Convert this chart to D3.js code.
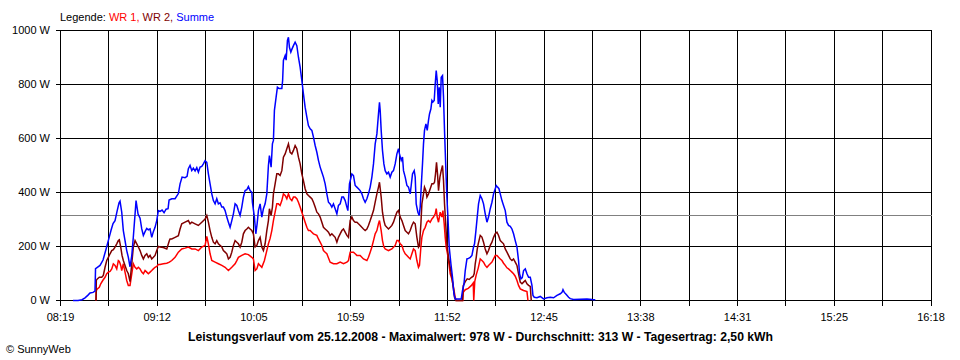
<!DOCTYPE html>
<html><head><meta charset="utf-8">
<script src="https://cdn.jsdelivr.net/npm/d3@7"></script>
<style>
html,body{margin:0;padding:0;background:#fff;}
svg{display:block;}
text{font-family:"Liberation Sans",Arial,sans-serif;font-size:11px;fill:#000;}
</style></head>
<body>
<svg id="chart" width="960" height="360"></svg>
<script>
// ---------------- data ----------------
const xTickLabels = ["08:19","09:12","10:05","10:59","11:52","12:45","13:38","14:31","15:25","16:18"];
const timeStart = "08:19:00";
const timeEnd = "16:18:00";
const yTicks = [0,200,400,600,800,1000];
const average = 313;
const legendItems = [["WR 1,","#ff0000"],["WR 2,","#800000"],["Summe","#0000ff"]];
const title = "Leistungsverlauf vom 25.12.2008 - Maximalwert: 978 W - Durchschnitt: 313 W - Tagesertrag: 2,50 kWh";

const summe = [["08:26:09",0],["08:28:55",0],["08:31:07",3],["08:32:46",10],["08:34:25",20],["08:35:31",28],["08:37:10",30],["08:38:16",35],["08:38:33",118],["08:39:22",122],["08:41:01",130],["08:42:41",150],["08:44:20",190],["08:45:59",232],["08:47:05",260],["08:48:11",285],["08:49:17",296],["08:50:23",330],["08:51:29",362],["08:52:02",368],["08:52:58",327],["08:53:51",259],["08:54:47",222],["08:55:43",185],["08:56:36",160],["08:57:32",125],["08:58:29",165],["08:59:21",235],["09:00:18",320],["09:00:51",370],["09:01:57",320],["09:03:03",305],["09:03:59",265],["09:04:52",241],["09:05:48",255],["09:06:44",267],["09:07:37",262],["09:08:33",265],["09:09:29",234],["09:10:22",255],["09:11:18",271],["09:12:14",296],["09:13:07",333],["09:14:03",330],["09:15:10",335],["09:16:16",325],["09:17:22",338],["09:18:28",340],["09:19:01",372],["09:20:30",377],["09:22:19",377],["09:24:08",396],["09:25:04",432],["09:26:10",457],["09:27:49",455],["09:28:55",460],["09:29:38",488],["09:30:34",500],["09:31:31",481],["09:32:23",490],["09:33:20",480],["09:34:16",492],["09:35:09",475],["09:36:05",494],["09:37:01",497],["09:37:54",506],["09:38:50",518],["09:39:46",512],["09:40:39",469],["09:41:35",432],["09:42:31",395],["09:43:24",370],["09:44:20",358],["09:45:16",377],["09:46:09",358],["09:47:05",362],["09:48:02",346],["09:48:54",346],["09:49:51",333],["09:50:47",309],["09:51:40",290],["09:52:36",271],["09:53:32",296],["09:54:25",321],["09:55:21",358],["09:56:17",352],["09:57:10",333],["09:58:06",315],["09:59:02",346],["09:59:55",383],["10:00:51",407],["10:01:47",410],["10:02:40",422],["10:03:36",407],["10:04:33",401],["10:04:52",364],["10:05:58",309],["10:06:45",247],["10:07:28",284],["10:08:11",333],["10:09:07",358],["10:10:03",309],["10:10:56",340],["10:11:52",358],["10:12:48",395],["10:13:41",500],["10:14:14",537],["10:15:10",494],["10:15:53",580],["10:16:26",593],["10:16:59",704],["10:17:55",753],["10:18:38",790],["10:19:34",785],["10:21:04",785],["10:21:30",815],["10:21:56",889],["10:22:53",907],["10:23:26",890],["10:24:09",963],["10:24:42",975],["10:25:15",938],["10:26:01",920],["10:26:34",930],["10:27:27",944],["10:28:23",957],["10:29:19",944],["10:30:12",901],["10:31:08",864],["10:32:04",815],["10:32:57",765],["10:33:53",716],["10:34:50",679],["10:35:42",648],["10:36:39",636],["10:37:35",630],["10:38:28",605],["10:39:24",574],["10:40:20",549],["10:41:13",519],["10:42:09",494],["10:43:05",475],["10:43:58",457],["10:44:54",432],["10:45:50",395],["10:46:43",364],["10:47:39",358],["10:48:35",346],["10:49:28",358],["10:50:24",340],["10:51:21",321],["10:52:13",352],["10:53:10",358],["10:54:06",383],["10:54:59",383],["10:55:55",370],["10:56:51",346],["10:57:24",333],["10:58:17",432],["10:59:36",469],["11:00:29",463],["11:01:25",426],["11:02:21",420],["11:03:14",414],["11:04:10",407],["11:05:06",395],["11:05:59",377],["11:06:55",364],["11:07:52",377],["11:08:44",395],["11:09:41",420],["11:10:37",457],["11:11:30",506],["11:12:26",580],["11:13:22",617],["11:14:15",691],["11:14:48",734],["11:15:11",704],["11:15:44",630],["11:16:27",556],["11:17:13",506],["11:17:56",481],["11:18:52",469],["11:19:45",475],["11:20:41",457],["11:21:37",475],["11:22:30",481],["11:23:26",506],["11:24:23",543],["11:25:15",562],["11:25:48",543],["11:26:45",519],["11:27:28",531],["11:28:01",481],["11:28:57",457],["11:29:53",426],["11:30:46",420],["11:31:42",395],["11:32:15",426],["11:32:58",469],["11:33:54",481],["11:34:27",457],["11:35:00",358],["11:35:56",327],["11:36:39",315],["11:37:12",346],["11:37:45",420],["11:38:28",506],["11:39:01",580],["11:39:34",630],["11:40:21",654],["11:41:04",630],["11:41:46",667],["11:42:19",691],["11:43:06",710],["11:43:39",741],["11:44:12",735],["11:44:55",741],["11:45:28",802],["11:46:01",852],["11:46:34",815],["11:47:07",728],["11:47:40",790],["11:48:13",716],["11:48:46",827],["11:49:29",833],["11:50:02",753],["11:50:35",630],["11:51:21",481],["11:51:54",383],["11:52:27",309],["11:53:10",198],["11:54:06",136],["11:54:59",86],["11:55:45",25],["11:56:28",6],["11:58:17",6],["11:59:47",6],["12:00:30",37],["12:01:16",60],["12:01:59",111],["12:02:55",154],["12:03:48",156],["12:04:44",160],["12:05:40",167],["12:06:33",198],["12:07:06",210],["12:07:52",259],["12:08:35",309],["12:09:18",358],["12:10:14",389],["12:11:10",377],["12:12:03",358],["12:12:59",321],["12:13:56",290],["12:14:48",309],["12:15:45",340],["12:16:41",364],["12:17:34",395],["12:18:30",414],["12:19:03",426],["12:19:46",420],["12:20:32",414],["12:21:15",395],["12:22:11",370],["12:23:04",352],["12:24:00",333],["12:24:56",290],["12:25:49",278],["12:26:45",275],["12:27:41",265],["12:28:34",247],["12:29:30",222],["12:30:27",198],["12:31:19",148],["12:31:53",99],["12:32:39",80],["12:33:22",85],["12:34:05",111],["12:35:01",117],["12:35:57",99],["12:36:50",86],["12:37:46",86],["12:38:42",56],["12:39:15",19],["12:39:58",12],["12:41:27",10],["12:43:16",15],["12:45:05",6],["12:46:58",10],["12:48:47",12],["12:50:36",10],["12:52:28",19],["12:54:17",25],["12:55:13",30],["12:55:46",40],["12:56:29",30],["12:57:35",22],["12:58:51",12],["12:59:47",7],["13:01:36",4],["13:05:18",5],["13:08:59",6],["13:11:44",4],["13:13:33",3]];

const wr1 = [["08:38:49",0],["08:38:59",37],["08:39:32",43],["08:40:38",49],["08:41:25",62],["08:42:31",74],["08:43:47",86],["08:44:43",99],["08:45:36",105],["08:46:32",108],["08:47:28",117],["08:48:21",136],["08:49:17",130],["08:50:13",117],["08:51:06",148],["08:51:39",145],["08:52:25",130],["08:52:58",111],["08:53:51",136],["08:54:47",105],["08:55:43",74],["08:56:36",56],["08:57:32",56],["08:58:29",99],["08:59:21",136],["09:00:18",123],["09:01:14",117],["09:02:07",123],["09:03:03",117],["09:03:59",105],["09:04:52",99],["09:05:48",111],["09:06:44",105],["09:07:37",99],["09:08:33",105],["09:09:29",111],["09:10:22",117],["09:11:18",123],["09:12:14",126],["09:13:07",133],["09:14:03",133],["09:15:52",136],["09:17:45",138],["09:19:11",142],["09:20:30",148],["09:22:19",160],["09:24:08",179],["09:26:00",191],["09:27:49",194],["09:29:38",198],["09:31:31",191],["09:33:20",191],["09:35:09",185],["09:37:01",198],["09:38:50",204],["09:39:46",237],["09:40:39",210],["09:41:35",173],["09:42:31",148],["09:44:20",142],["09:46:09",136],["09:48:02",130],["09:49:51",123],["09:51:40",111],["09:53:32",123],["09:55:21",136],["09:56:17",148],["09:57:10",160],["09:59:02",167],["10:00:51",173],["10:02:40",170],["10:04:33",160],["10:05:25",154],["10:06:22",111],["10:07:18",117],["10:08:11",136],["10:10:03",123],["10:11:29",148],["10:12:48",185],["10:13:41",210],["10:14:37",230],["10:15:33",259],["10:16:26",296],["10:17:22",327],["10:18:18",358],["10:19:11",358],["10:20:07",352],["10:21:04",370],["10:21:56",395],["10:22:53",389],["10:23:49",377],["10:24:42",395],["10:25:38",377],["10:26:34",370],["10:27:27",383],["10:28:23",383],["10:29:19",377],["10:30:12",364],["10:31:08",346],["10:32:04",327],["10:32:57",309],["10:33:53",290],["10:34:50",271],["10:35:42",259],["10:36:39",259],["10:37:35",253],["10:38:28",247],["10:40:20",241],["10:41:13",228],["10:42:09",216],["10:43:05",204],["10:43:58",185],["10:44:54",179],["10:45:50",173],["10:47:39",142],["10:49:28",136],["10:51:21",136],["10:53:10",142],["10:54:59",136],["10:56:51",142],["10:57:44",148],["10:58:40",179],["10:59:36",179],["11:00:29",179],["11:01:25",173],["11:02:21",167],["11:04:10",167],["11:05:59",154],["11:07:52",148],["11:08:44",160],["11:09:41",179],["11:10:37",198],["11:11:30",222],["11:12:26",247],["11:13:22",259],["11:14:15",284],["11:14:48",296],["11:15:44",259],["11:16:27",222],["11:17:13",198],["11:17:56",191],["11:19:45",185],["11:21:37",191],["11:23:26",204],["11:24:23",222],["11:25:15",222],["11:26:12",210],["11:27:08",204],["11:28:01",185],["11:28:57",173],["11:29:53",167],["11:30:46",160],["11:31:42",154],["11:32:38",173],["11:33:31",191],["11:34:27",185],["11:35:23",148],["11:36:16",123],["11:36:49",130],["11:37:35",198],["11:38:08",234],["11:39:01",259],["11:39:57",271],["11:40:54",290],["11:41:46",296],["11:42:43",290],["11:43:39",302],["11:44:32",309],["11:45:28",321],["11:46:01",340],["11:46:34",309],["11:47:17",290],["11:48:13",327],["11:49:09",309],["11:49:42",333],["11:50:25",284],["11:50:58",234],["11:51:31",198],["11:52:14",173],["11:52:47",148],["11:53:43",99],["11:54:39",80],["11:55:32",49],["11:56:28",12],["11:57:01",0],["12:00:36",0],["12:00:53",30],["12:01:59",40],["12:03:38",45],["12:05:17",55],["12:06:23",65],["12:06:40",0],["12:07:13",70],["12:08:02",95],["12:09:08",120],["12:10:14",154],["12:11:10",148],["12:12:03",142],["12:12:59",130],["12:13:56",123],["12:14:48",130],["12:15:45",136],["12:16:41",142],["12:17:34",154],["12:18:30",167],["12:19:26",167],["12:20:19",160],["12:21:15",154],["12:22:11",148],["12:23:04",138],["12:24:00",130],["12:24:56",121],["12:25:49",117],["12:26:45",111],["12:27:41",105],["12:28:34",99],["12:29:30",90],["12:30:27",74],["12:31:19",56],["12:32:16",43],["12:33:12",40],["12:34:05",37],["12:35:01",35],["12:35:57",33],["12:36:30",0]];

const wr2 = [["08:38:49",0],["08:38:59",75],["08:39:32",80],["08:40:38",86],["08:41:58",86],["08:42:50",93],["08:43:47",123],["08:44:43",148],["08:45:36",160],["08:46:32",173],["08:47:28",185],["08:48:21",188],["08:49:17",198],["08:50:13",210],["08:51:06",222],["08:51:39",225],["08:52:25",198],["08:53:08",167],["08:53:51",148],["08:54:47",130],["08:55:43",111],["08:56:36",99],["08:57:32",70],["08:58:29",136],["08:59:21",198],["09:00:18",222],["09:01:14",210],["09:02:07",198],["09:03:03",185],["09:03:59",167],["09:04:52",154],["09:05:48",167],["09:06:44",173],["09:07:37",160],["09:08:33",167],["09:09:29",154],["09:10:22",160],["09:11:18",167],["09:12:14",185],["09:13:07",200],["09:14:03",198],["09:15:52",196],["09:17:45",191],["09:19:11",222],["09:19:34",228],["09:20:30",228],["09:22:19",234],["09:24:08",240],["09:25:04",265],["09:26:00",284],["09:27:49",290],["09:29:38",296],["09:30:34",284],["09:31:31",290],["09:33:20",284],["09:35:09",278],["09:37:01",290],["09:38:50",302],["09:39:46",315],["09:40:39",290],["09:41:35",259],["09:42:31",234],["09:43:24",216],["09:44:20",210],["09:45:16",222],["09:46:09",210],["09:48:02",198],["09:48:54",185],["09:49:51",179],["09:50:47",173],["09:51:40",154],["09:52:36",160],["09:53:32",179],["09:54:25",204],["09:55:21",222],["09:56:17",216],["09:57:10",210],["09:58:06",198],["09:59:02",216],["09:59:55",247],["10:00:51",259],["10:01:47",265],["10:02:40",271],["10:03:36",265],["10:04:33",259],["10:05:25",247],["10:06:22",198],["10:07:18",204],["10:08:11",222],["10:09:07",234],["10:10:03",198],["10:10:56",185],["10:11:52",210],["10:12:48",259],["10:13:41",296],["10:14:14",340],["10:15:10",315],["10:15:53",346],["10:16:26",395],["10:17:22",432],["10:18:18",469],["10:19:11",469],["10:20:07",463],["10:21:04",481],["10:21:56",531],["10:22:53",543],["10:23:49",562],["10:24:42",580],["10:25:38",549],["10:26:34",543],["10:27:27",556],["10:28:23",574],["10:29:19",562],["10:30:12",531],["10:31:08",506],["10:32:04",469],["10:32:57",444],["10:33:53",414],["10:34:50",395],["10:35:42",389],["10:36:39",383],["10:37:35",377],["10:38:28",364],["10:39:24",346],["10:40:20",327],["10:41:13",321],["10:42:09",309],["10:43:05",290],["10:43:58",271],["10:44:54",265],["10:45:50",259],["10:46:43",253],["10:47:39",241],["10:48:35",247],["10:49:28",241],["10:50:24",234],["10:51:21",216],["10:52:13",234],["10:53:10",247],["10:54:06",259],["10:54:59",265],["10:55:55",253],["10:56:51",241],["10:57:44",234],["10:58:40",296],["10:59:36",309],["11:00:29",296],["11:01:25",290],["11:02:21",290],["11:03:14",284],["11:04:10",278],["11:05:06",271],["11:05:59",265],["11:06:55",259],["11:07:52",265],["11:08:44",278],["11:09:41",296],["11:10:37",315],["11:11:30",333],["11:12:26",364],["11:13:22",395],["11:14:15",420],["11:14:48",438],["11:15:44",383],["11:16:27",327],["11:17:13",296],["11:17:56",278],["11:18:52",271],["11:19:45",265],["11:20:41",271],["11:21:37",278],["11:22:30",290],["11:23:26",309],["11:24:23",327],["11:25:15",333],["11:26:12",309],["11:27:08",296],["11:28:01",278],["11:28:57",259],["11:29:53",253],["11:30:46",247],["11:31:42",259],["11:32:38",278],["11:33:31",290],["11:34:27",284],["11:35:23",234],["11:36:16",198],["11:36:49",204],["11:37:35",284],["11:38:08",358],["11:39:01",395],["11:39:34",420],["11:40:21",407],["11:40:54",383],["11:41:46",395],["11:42:43",414],["11:43:39",432],["11:44:32",432],["11:45:05",438],["11:45:38",469],["11:46:11",512],["11:46:44",469],["11:47:17",407],["11:48:03",457],["11:48:46",481],["11:49:29",500],["11:50:02",444],["11:50:35",358],["11:51:21",271],["11:51:54",210],["11:52:47",160],["11:53:43",123],["11:54:39",86],["11:55:22",49],["11:56:05",12],["11:56:52",0],["12:00:30",0],["12:00:53",55],["12:01:59",70],["12:03:05",80],["12:04:11",78],["12:05:17",85],["12:06:23",90],["12:06:56",100],["12:07:29",136],["12:08:02",160],["12:08:35",190],["12:09:08",210],["12:10:14",241],["12:11:10",235],["12:12:03",216],["12:12:59",191],["12:13:56",173],["12:14:48",185],["12:15:45",204],["12:16:41",216],["12:17:34",234],["12:18:30",247],["12:19:26",253],["12:20:19",241],["12:21:15",222],["12:22:11",216],["12:23:04",210],["12:24:00",191],["12:24:56",179],["12:25:49",167],["12:26:45",154],["12:27:41",148],["12:28:34",154],["12:29:30",142],["12:30:27",130],["12:31:19",99],["12:32:16",68],["12:33:12",62],["12:34:05",68],["12:35:01",74],["12:35:57",62],["12:36:50",56],["12:37:46",52],["12:38:19",0]];

// ---------------- chart ----------------
const svg = d3.select("#chart");
const parse = d3.timeParse("%H:%M:%S");
const t0 = parse(timeStart), t1 = parse(timeEnd);

const x = d3.scaleTime().domain([t0, t1]).range([60, 930.5]);
const y = d3.scaleLinear().domain([0, 1000]).range([300, 30]);
const crisp = v => Math.round(v) + 0.5;

// vertical gridlines (19 positions, labels on every second)
const nTicks = (xTickLabels.length - 1) * 2;
const tickTimes = d3.range(nTicks + 1).map(i => new Date(+t0 + i * (t1 - t0) / nTicks));

const grid = svg.append("g").attr("stroke", "#000").attr("stroke-width", 1).attr("shape-rendering", "crispEdges");
grid.selectAll("line.v").data(tickTimes).join("line")
  .attr("x1", d => crisp(x(d))).attr("x2", d => crisp(x(d)))
  .attr("y1", crisp(y(1000))).attr("y2", crisp(y(0)) + 5);
grid.selectAll("line.h").data(yTicks).join("line")
  .attr("x1", crisp(x(t0)) - 5).attr("x2", crisp(x(t1)))
  .attr("y1", d => crisp(y(d))).attr("y2", d => crisp(y(d)));

// average line
svg.append("line")
  .attr("x1", crisp(x(t0))).attr("x2", crisp(x(t1)))
  .attr("y1", crisp(y(average))).attr("y2", crisp(y(average)))
  .attr("stroke", "#808080").attr("stroke-width", 1).attr("shape-rendering", "crispEdges");

// series
const line = d3.line().x(d => x(parse(d[0]))).y(d => y(d[1]) + 0.5);
const series = [[wr1, "#ff0000"], [wr2, "#800000"], [summe, "#0000ff"]];
svg.append("g").selectAll("path").data(series).join("path")
  .attr("d", d => line(d[0]))
  .attr("fill", "none")
  .attr("stroke", d => d[1])
  .attr("stroke-width", 1.5)
  .attr("stroke-linejoin", "miter");

// y labels
svg.append("g").selectAll("text").data(yTicks).join("text")
  .attr("x", 50).attr("y", d => y(d) + 4)
  .attr("text-anchor", "end")
  .text(d => d + " W");

// x labels
svg.append("g").selectAll("text").data(xTickLabels).join("text")
  .attr("x", (d, i) => x(tickTimes[i * 2]) + 0.5).attr("y", 321)
  .attr("text-anchor", "middle")
  .text(d => d);

// legend
const leg = svg.append("text").attr("x", 60).attr("y", 21);
leg.append("tspan").text("Legende: ");
legendItems.forEach((it, i) => {
  leg.append("tspan").attr("fill", it[1]).text(it[0] + (i < legendItems.length - 1 ? " " : ""));
});

// title
svg.append("text").attr("x", 188).attr("y", 341)
  .attr("font-weight", "bold").style("font-size", "12px")
  .attr("textLength", 585).attr("lengthAdjust", "spacingAndGlyphs")
  .text(title);

// copyright
svg.append("text").attr("x", 6).attr("y", 353).text("\u00A9 SunnyWeb");
</script>
</body></html>
